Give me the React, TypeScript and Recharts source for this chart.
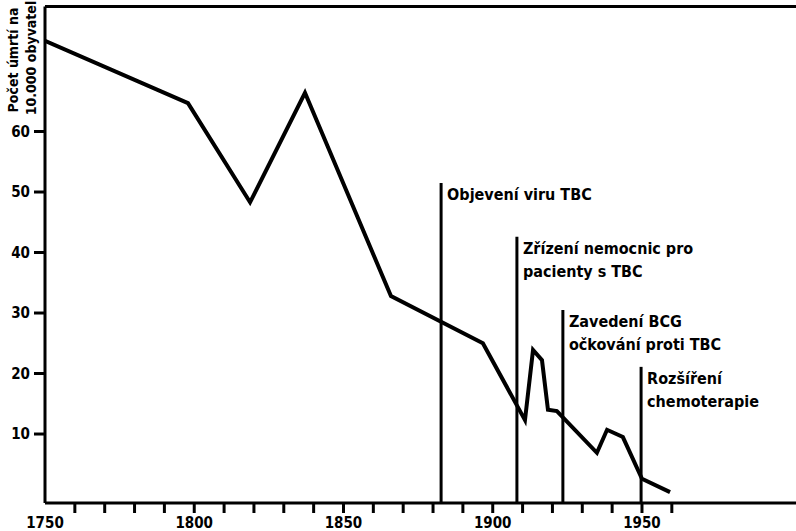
import { LineChart, Line, XAxis, YAxis, ReferenceLine } from 'recharts';

// body text face: a bold, narrow sans like the scanned original
const FONT = '"Liberation Sans Narrow", "Arial Narrow", "DejaVu Sans Condensed", sans-serif';

const years = [1750, 1797.9, 1818.7, 1837.1, 1865.9, 1896.7, 1910.8, 1913.5, 1916.5, 1918.5, 1921.5, 1934.9, 1938.3, 1943.6, 1950.0, 1959.4];
const deaths = [75, 64.7, 48.3, 66.4, 32.8, 25.0, 12.3, 23.9, 22.2, 14.0, 13.8, 6.9, 10.7, 9.5, 2.6, 0.4];

const xTicks = [1750, 1760, 1770, 1780, 1790, 1800, 1810, 1820, 1830, 1840, 1850, 1860, 1870, 1880, 1890, 1900, 1910, 1920, 1930, 1940, 1950, 1960];
const xLabels = [1750, 1800, 1850, 1900, 1950];
const yTicks = [10, 20, 30, 40, 50, 60];

const eventYears = [1882.7, 1908.1, 1923.5, 1949.7];
const eventTops = [51.5, 42.6, 30.5, 21.1];
const eventLabels = [
  ['Objevení viru TBC'],
  ['Zřízení nemocnic pro', 'pacienty s TBC'],
  ['Zavedení BCG', 'očkování proti TBC'],
  ['Rozšíření', 'chemoterapie'],
];

const Y_MIN = -1.4;
const Y_MAX = 80.66;

const data = years.map((year, i) => ({ year, value: deaths[i] }));

const XTick = ({ x, y, payload }: any) => (
  <g>
    {payload.value !== 1750 && (
      <line x1={x} y1={y} x2={x} y2={y + 10} stroke="#000" strokeWidth={3} />
    )}
    {xLabels.includes(payload.value) && (
      <text x={x} y={y + 25} textAnchor="middle" fill="#000" fontSize={15} fontWeight="bold" fontFamily={FONT}>
        {payload.value}
      </text>
    )}
  </g>
);

const EventLabel = ({ viewBox, lines }: any) => {
  if (!viewBox) return null;
  return (
    <text x={viewBox.x + 6} y={viewBox.y + 17} fill="#000" fontSize={16} fontWeight="bold" fontFamily={FONT}>
      {lines.map((t: string, i: number) => (
        <tspan key={i} x={viewBox.x + 6} dy={i === 0 ? 0 : 23}>
          {t}
        </tspan>
      ))}
    </text>
  );
};

const YLabel = () => (
  <g fill="#000" fontSize={14} fontWeight="bold" fontFamily={FONT}>
    <text transform="translate(18, 60) rotate(-90)" textAnchor="middle">Počet úmrtí na</text>
    <text transform="translate(36, 58) rotate(-90)" textAnchor="middle">10.000 obyvatel</text>
  </g>
);

export default function App() {
  return (
    <div style={{ position: 'absolute', left: 0, top: 0, background: '#fff' }}>
      <LineChart width={796} height={531} data={data} margin={{ top: 6.5, right: 0, bottom: 0, left: 0 }}>
        <XAxis
          dataKey="year"
          type="number"
          domain={[1750, 2001.6]}
          ticks={xTicks}
          interval={0}
          height={28}
          tickSize={0}
          tickMargin={0}
          tick={<XTick />}
          axisLine={{ stroke: '#000', strokeWidth: 3 }}
          allowDataOverflow
        />
        <YAxis
          type="number"
          domain={[Y_MIN, Y_MAX]}
          ticks={yTicks}
          interval={0}
          width={45}
          tickSize={11}
          tickMargin={4}
          tick={{ fill: '#000', fontSize: 15, fontWeight: 'bold', fontFamily: FONT }}
          tickLine={{ stroke: '#000', strokeWidth: 3 }}
          axisLine={{ stroke: '#000', strokeWidth: 3 }}
          label={{ content: () => <YLabel /> }}
          allowDataOverflow
        />
        <ReferenceLine y={Y_MAX} stroke="#000" strokeWidth={3} ifOverflow="visible" />
        {eventYears.map((yr, i) => (
          <ReferenceLine
            key={yr}
            segment={[{ x: yr, y: Y_MIN }, { x: yr, y: eventTops[i] }]}
            stroke="#000"
            strokeWidth={3}
            ifOverflow="visible"
            label={{ content: (p: any) => <EventLabel viewBox={p.viewBox} lines={eventLabels[i]} /> }}
          />
        ))}
        <Line
          type="linear"
          dataKey="value"
          stroke="#000"
          strokeWidth={4}
          strokeLinejoin="miter"
          dot={false}
          isAnimationActive={false}
        />
      </LineChart>
    </div>
  );
}
